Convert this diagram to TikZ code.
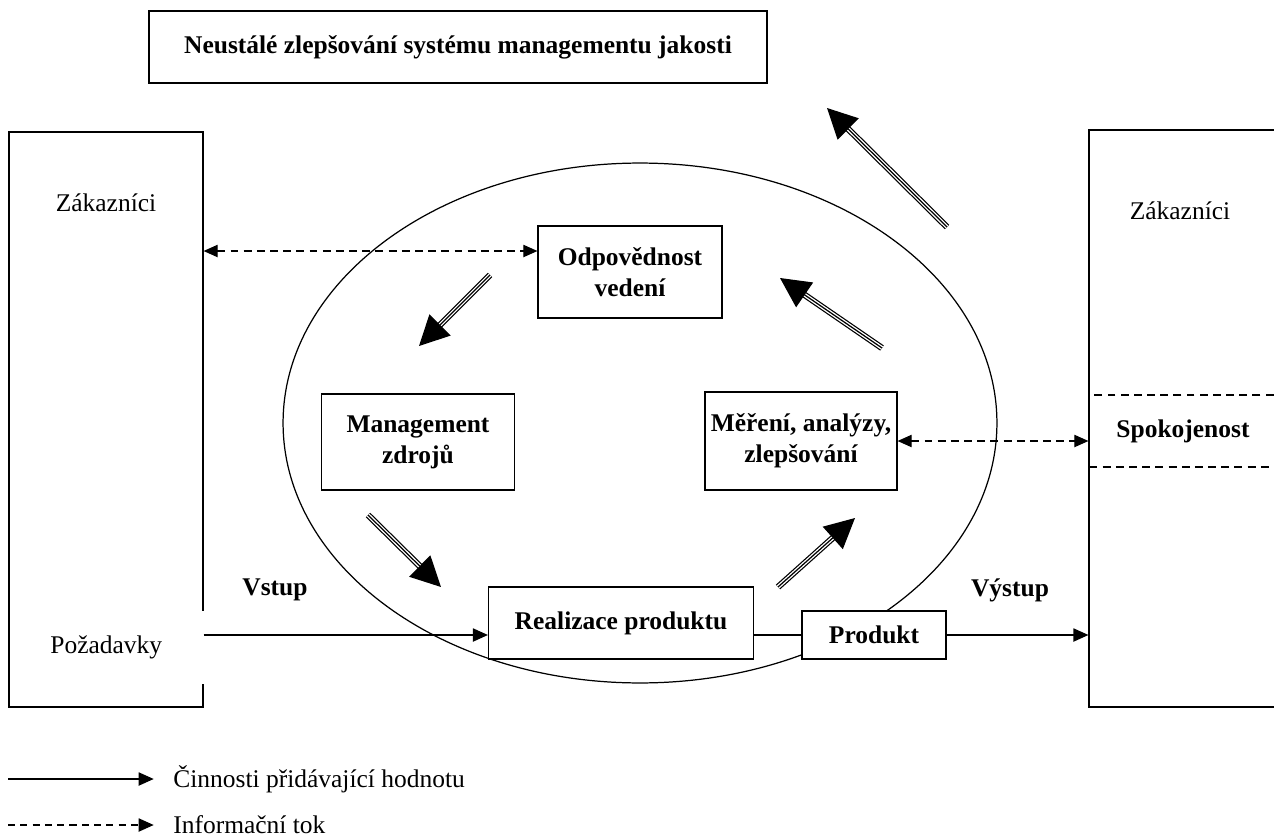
\documentclass[tikz,border=0pt]{standalone}
\usepackage{fontspec}
\setmainfont{Liberation Serif}
\usetikzlibrary{arrows.meta}

% triple-line arrow: outer, white gap, centre line with head
\newcommand{\tripleArrow}[2]{%
  \draw[line width=3.6pt, shorten >=12pt] #1 -- #2;
  \draw[white, line width=2.2pt, shorten >=12pt] #1 -- #2;
  \draw[line width=0.7pt, -{Triangle[length=17pt,width=17pt]}] #1 -- #2;}

\begin{document}
\begin{tikzpicture}[x=0.02cm, y=-0.02cm,
    font=\fontsize{14.5}{17.5}\selectfont,
    box/.style={draw, line width=0.7pt, fill=white, align=center, font=\fontsize{14.5}{17.5}\selectfont\bfseries, inner sep=0pt},
    custbox/.style={draw, line width=0.7pt, inner sep=0pt},
    flow/.style={line width=0.7pt, -{Triangle[length=8.5pt,width=7.5pt]}},
    info/.style={line width=0.7pt, dash pattern=on 4.5pt off 3pt, {Triangle[length=8pt,width=7pt]}-{Triangle[length=8pt,width=7pt]}}]
  \useasboundingbox (0,0) rectangle (1274,838);

  % customers
  \node[custbox, minimum width=3.88cm, minimum height=11.5cm] (zakL) at (106,419.5) {};
  \node[custbox, minimum width=4.2cm, minimum height=11.54cm] (zakR) at (1194,418.5) {};
  \node at (106,203) {Zákazníci};
  \node at (1180,211) {Zákazníci};
  \node[fill=white, anchor=west, inner xsep=0pt, text width=3.12cm, minimum height=1.46cm] (poz) at (50,647) {Požadavky};

  % quality management system
  \draw[line width=0.7pt] (640,423) ellipse [x radius=7.14cm, y radius=5.2cm];
  \node[box, minimum width=12.36cm, minimum height=1.44cm] (impr) at (458,47) {Neustálé zlepšování systému managementu jakosti};
  \node[box, minimum width=3.68cm, minimum height=1.84cm] (odp) at (630,272) {Odpovědnost\\vedení};
  \node[box, minimum width=3.86cm, minimum height=1.92cm] (man) at (418,442) {Management\\zdrojů};
  \node[box, minimum width=3.84cm, minimum height=1.96cm] (mer) at (801,441) {Měření, analýzy,\\zlepšování};
  \node[box, minimum width=5.3cm, minimum height=1.44cm] (real) at (621,623) {Realizace produktu};
  \node[box, minimum width=2.88cm, minimum height=0.96cm] (prod) at (874,635) {Produkt};
  \node[box, draw=none, fill=none] at (275,590) {Vstup};
  \node[box, draw=none, fill=none] at (1010,590) {Výstup};

  \node[box, fill=none, dash pattern=on 4.5pt off 3pt, minimum width=4.02cm, minimum height=1.44cm] (spok) at (1190,431) {\hspace*{-0.28cm}Spokojenost};

  % value-adding flow
  \draw[flow] (prod.west -| zakL.east) -- (prod.west -| real.west);
  \draw[line width=0.7pt] (prod.west -| real.east) -- (prod.west);
  \draw[flow] (prod.east) -- (prod.east -| zakR.west);

  % information flow
  \draw[info] ([yshift=0.42cm]odp.west -| zakL.east) -- ([yshift=0.42cm]odp.west);
  \draw[info] (mer.east) -- (mer.east -| zakR.west);

  % cycle of improvement
  \tripleArrow{(947,227)}{(827,108)}
  \tripleArrow{(490,275)}{(419,346)}
  \tripleArrow{(368,515)}{(441,587)}
  \tripleArrow{(778,587)}{(855,518)}
  \tripleArrow{(882,348)}{(780,278)}

  % legend
  \coordinate (legA) at (8,779);
  \coordinate (legB) at (8,825);
  \node[anchor=west, inner xsep=0pt] (legAct) at (173,779) {Činnosti přidávající hodnotu};
  \node[anchor=west, inner xsep=0pt] (legInf) at (173,825) {Informační tok};
  \draw[line width=0.7pt, -{Triangle[length=8.5pt,width=7.5pt]}, shorten >=11pt] (legA) -- (legAct.west);
  \draw[line width=0.7pt, dash pattern=on 4pt off 3pt, -{Triangle[length=8.5pt,width=7.5pt]}, shorten >=11pt] (legB) -- (legInf.west);
\end{tikzpicture}
\end{document}
